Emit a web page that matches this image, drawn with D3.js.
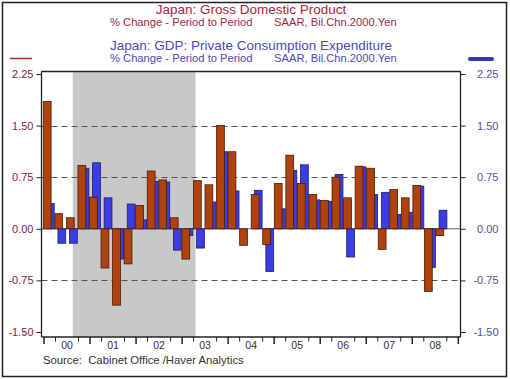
<!DOCTYPE html>
<html><head><meta charset="utf-8">
<script src="https://cdn.jsdelivr.net/npm/d3@7"></script>
<style>body{margin:0;background:#fff}svg{display:block;font-family:"Liberation Sans",Arial,sans-serif}</style>
</head><body><svg id="c" width="510" height="379"></svg>
<script>
// ---- data ----
const years = ["00","01","02","03","04","05","06","07","08"];
const quarters = [];
years.forEach(y => { for (let q = 1; q <= 4; q++) quarters.push("20" + y + "Q" + q); });
// Japan real GDP, % change q/q, SAAR basis (2000Q1..2008Q4)
const gdp = [1.85, 0.22, 0.16, 0.92,
             0.46, -0.57, -1.11, -0.51,
             0.34, 0.84, 0.71, 0.16,
             -0.44, 0.70, 0.64, 1.50,
             1.12, -0.24, 0.50, -0.23,
             0.66, 1.07, 0.66, 0.50,
             0.41, 0.75, 0.45, 0.91,
             0.88, -0.30, 0.57, 0.45,
             0.63, -0.91, -0.10, null];
// Japan private consumption expenditure, % change q/q
const pce = [0.37, -0.21, -0.21, 0.88,
             0.96, 0.45, -0.44, 0.36,
             0.13, 0.69, 0.68, -0.31,
             -0.10, -0.28, 0.39, 1.12,
             0.55, 0.00, 0.56, -0.62,
             0.29, 0.85, 0.93, 0.42,
             0.40, 0.79, -0.41, 0.90,
             0.50, 0.53, 0.21, 0.24,
             0.62, -0.56, 0.27, null];
const yTicks = [2.25, 1.50, 0.75, 0.00, -0.75, -1.50];
const yTickLabels = ["2.25", "1.50", "0.75", "0.00", "-0.75", "-1.50"];
const dashedLevels = [1.50, 0.75, -0.75];
const recession = [[2000, 8], [2003, 4]]; // shaded period (year, month)

// ---- layout ----
const svg = d3.select("#c");
const plot = {left: 41.5, right: 460.5, top: 71.5, bottom: 337};
const y = d3.scaleLinear().domain([-1.5, 2.25]).range([332, 74]);
const xq = d3.scaleLinear().domain([0, 36]).range([44, 458.3]);
const xb = d3.scaleBand().domain(quarters).range([43.3, 459.1]);
const monthX = (yr, m) => xq(((yr - 2000) * 12 + (m - 1) + 0.5) / 3);

const red = "#a3283a", blue = "#4a4ab4";

// outer frame
svg.append("rect").attr("x", 2.5).attr("y", 2.5).attr("width", 504).attr("height", 374)
  .attr("fill", "none").attr("stroke", "#222").attr("stroke-width", 1.5);

// titles
const t = svg.append("g");
t.append("text").attr("x", 251).attr("y", 14).attr("text-anchor", "middle")
  .attr("font-size", 13.5).attr("fill", red).text("Japan: Gross Domestic Product");
t.append("text").attr("x", 110).attr("y", 26).attr("font-size", 11.2).attr("fill", red).text("% Change - Period to Period");
t.append("text").attr("x", 274).attr("y", 26).attr("font-size", 11.2).attr("fill", red).text("SAAR, Bil.Chn.2000.Yen");
t.append("text").attr("x", 251).attr("y", 50).attr("text-anchor", "middle")
  .attr("font-size", 13.5).attr("fill", blue).text("Japan: GDP: Private Consumption Expenditure");
t.append("text").attr("x", 110).attr("y", 62).attr("font-size", 11.2).attr("fill", blue).text("% Change - Period to Period");
t.append("text").attr("x", 274).attr("y", 62).attr("font-size", 11.2).attr("fill", blue).text("SAAR, Bil.Chn.2000.Yen");

// legend marks
svg.append("line").attr("x1", 10).attr("x2", 32).attr("y1", 58.5).attr("y2", 58.5)
  .attr("stroke", "#b02a2a").attr("stroke-width", 1.5);
svg.append("line").attr("x1", 470).attr("x2", 492).attr("y1", 59).attr("y2", 59)
  .attr("stroke", "#3535c0").attr("stroke-width", 4).attr("stroke-linecap", "round");

// recession shading
svg.append("rect").attr("x", monthX(...recession[0])).attr("y", plot.top)
  .attr("width", monthX(...recession[1]) - monthX(...recession[0]))
  .attr("height", plot.bottom - plot.top).attr("fill", "#c8c8c8");

// gridlines
svg.selectAll(".grid").data(dashedLevels).enter().append("line")
  .attr("x1", plot.left).attr("x2", plot.right)
  .attr("y1", d => Math.round(y(d)) + 0.5).attr("y2", d => Math.round(y(d)) + 0.5)
  .attr("stroke", "#555").attr("stroke-dasharray", "6,4");
svg.append("line").attr("x1", plot.left).attr("x2", plot.right)
  .attr("y1", y(0)).attr("y2", y(0)).attr("stroke", "#666").attr("stroke-width", 1);

// bars
const bw = 7.8;
const bar = (v) => ({y: y(Math.max(0, v)), h: Math.abs(y(v) - y(0))});
const idx = d3.range(quarters.length);
svg.append("g").selectAll("rect").data(idx.filter(i => pce[i] != null)).enter().append("rect")
  .attr("x", i => xb(quarters[i]) + 3.1).attr("width", bw)
  .attr("y", i => bar(pce[i]).y).attr("height", i => bar(pce[i]).h)
  .attr("fill", "#3c3ce4").attr("stroke", "#1c1c6a").attr("stroke-width", 0.8);
svg.append("g").selectAll("rect").data(idx.filter(i => gdp[i] != null)).enter().append("rect")
  .attr("x", i => xb(quarters[i])).attr("width", bw)
  .attr("y", i => bar(gdp[i]).y).attr("height", i => bar(gdp[i]).h)
  .attr("fill", "#b0420e").attr("stroke", "#4a1a05").attr("stroke-width", 0.8);

// plot frame
const fr = svg.append("g").attr("stroke", "#222").attr("stroke-width", 1.3);
fr.append("line").attr("x1", plot.left).attr("x2", plot.right).attr("y1", plot.top).attr("y2", plot.top);
fr.append("line").attr("x1", plot.left).attr("x2", plot.right).attr("y1", plot.bottom).attr("y2", plot.bottom);
fr.append("line").attr("x1", plot.left).attr("x2", plot.left).attr("y1", plot.top).attr("y2", plot.bottom);
fr.append("line").attr("x1", plot.right).attr("x2", plot.right).attr("y1", plot.top).attr("y2", plot.bottom);

// y axes
const leftAxis = d3.axisLeft(y).tickValues(yTicks).tickSize(5).tickPadding(3)
  .tickFormat((d, i) => yTickLabels[i]);
const gl = svg.append("g").attr("transform", `translate(${plot.left},0)`).call(leftAxis);
gl.select(".domain").remove();
gl.selectAll("line").attr("stroke", "#222");
gl.selectAll("text").attr("font-size", 11).attr("fill", "#8b1a3c").attr("font-family", "Liberation Sans, Arial, sans-serif");
const rightAxis = d3.axisRight(y).tickValues(yTicks).tickSize(5).tickPadding(3)
  .tickFormat((d, i) => yTickLabels[i]);
const gr = svg.append("g").attr("transform", `translate(${plot.right},0)`).call(rightAxis);
gr.select(".domain").remove();
gr.selectAll("line").attr("stroke", "#222");
gr.selectAll("text").attr("font-size", 11).attr("fill", "#5050a8").attr("text-anchor", "end")
  .attr("x", 38).attr("font-family", "Liberation Sans, Arial, sans-serif");

// x axis ticks (quarter boundaries) and year labels
const tq = d3.range(0, 37).filter(q => q % 4 !== 2);
svg.append("g").selectAll("line").data(tq).enter().append("line")
  .attr("x1", q => xq(q)).attr("x2", q => xq(q))
  .attr("y1", plot.bottom).attr("y2", q => plot.bottom + (q % 4 === 0 ? 7 : 4.5))
  .attr("stroke", "#222").attr("stroke-width", q => q % 4 === 0 ? 1.5 : 1);
svg.append("g").selectAll("text").data(years).enter().append("text")
  .attr("x", (d, i) => xq(i * 4 + 2)).attr("y", 348.5).attr("text-anchor", "middle")
  .attr("font-size", 10.5).attr("fill", "#333").text(d => d);

// source
svg.append("text").attr("x", 43).attr("y", 364).attr("font-size", 11.3).attr("fill", "#333")
  .attr("xml:space", "preserve").style("white-space", "pre").text("Source:  Cabinet Office /Haver Analytics");
</script></body></html>
